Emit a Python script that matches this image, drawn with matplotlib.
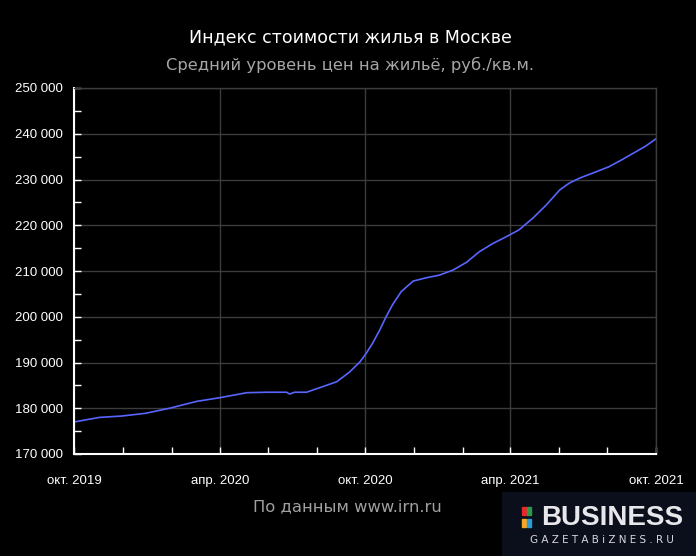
import pandas as pd
import matplotlib
matplotlib.use('Agg')
import matplotlib.pyplot as plt
import matplotlib.dates as mdates
from matplotlib.ticker import FuncFormatter, MultipleLocator
from matplotlib.patches import Rectangle

# Price per sq.m. in Moscow
dates = ['2019-10-01', '2019-11-02', '2019-11-30', '2019-12-30', '2020-01-29',
         '2020-03-03', '2020-04-01', '2020-05-05', '2020-05-30', '2020-06-24',
         '2020-06-28', '2020-07-04', '2020-07-19', '2020-08-08', '2020-08-26',
         '2020-09-11', '2020-09-24', '2020-10-02', '2020-10-10', '2020-10-19',
         '2020-10-27', '2020-11-04', '2020-11-15', '2020-11-30', '2020-12-16',
         '2021-01-02', '2021-01-19', '2021-02-05', '2021-02-21', '2021-03-10',
         '2021-03-27', '2021-04-12', '2021-04-29', '2021-05-16', '2021-06-02',
         '2021-06-14', '2021-06-27', '2021-07-18', '2021-08-03', '2021-08-20',
         '2021-09-06', '2021-09-18', '2021-10-01']
prices = [177000, 178000, 178300, 178900, 180000,
          181500, 182300, 183400, 183500, 183500,
          183100, 183500, 183500, 184700, 185800,
          187900, 190100, 192000, 194200, 197100,
          200000, 202600, 205500, 207800, 208500,
          209100, 210200, 211900, 214200, 216000,
          217500, 219000, 221500, 224400, 227700,
          229200, 230300, 231700, 232800, 234400,
          236100, 237300, 238900]

tick_dates = ['2019-10-01', '2020-04-01', '2020-10-01', '2021-04-01', '2021-10-01']
tick_labels = ['окт. 2019', 'апр. 2020', 'окт. 2020', 'апр. 2021', 'окт. 2021']

df = pd.DataFrame({'date': pd.to_datetime(dates), 'price': prices})

fig = plt.figure(figsize=(6.96, 5.56), dpi=100, facecolor='black')
ax = fig.add_axes([74 / 696, 1 - 454 / 556, 582 / 696, 366 / 556], facecolor='black')

ax.plot(df['date'], df['price'], color='#5865ff', lw=1.2)

ax.set_xlim(pd.Timestamp(tick_dates[0]), pd.Timestamp(tick_dates[-1]))
ax.set_ylim(170000, 250000)

# ticks
ax.set_xticks(pd.to_datetime(tick_dates))
ax.set_xticklabels(tick_labels)
ax.xaxis.set_minor_locator(mdates.MonthLocator(bymonth=[2, 6, 8, 12]))
ax.yaxis.set_major_locator(MultipleLocator(10000))
ax.yaxis.set_minor_locator(MultipleLocator(5000))
ax.yaxis.set_major_formatter(FuncFormatter(lambda v, p: f'{int(v):,}'.replace(',', ' ')))

for lab in ax.get_xticklabels() + ax.get_yticklabels():
    lab.set_fontfamily(['Liberation Sans', 'DejaVu Sans'])
    lab.set_fontsize(9.5)
    lab.set_color('white')

ax.tick_params(axis='x', which='both', direction='in', length=5, width=1,
               colors='white', pad=15)
ax.tick_params(axis='y', which='both', direction='in', length=5, width=1,
               colors='white', pad=8)

ax.grid(True, which='major', color='#3c3c3c', lw=1)
ax.set_axisbelow(True)

for side in ['top', 'right']:
    ax.spines[side].set_color('#3c3c3c')
    ax.spines[side].set_linewidth(1)
for side in ['left', 'bottom']:
    ax.spines[side].set_color('white')
    ax.spines[side].set_linewidth(1.5)

# titles
fig.text(350 / 696, 1 - 37 / 556, 'Индекс стоимости жилья в Москве',
         color='white', fontsize=12.5, ha='center', va='center',
         family='DejaVu Sans')
fig.text(350 / 696, 1 - 65 / 556, 'Средний уровень цен на жильё, руб./кв.м.',
         color='#a6a6a6', fontsize=11.8, ha='center', va='center',
         family='DejaVu Sans')
fig.text(347 / 696, 1 - 507 / 556, 'По данным www.irn.ru',
         color='#a0a0a0', fontsize=11.8, ha='center', va='center',
         family='DejaVu Sans')

# logo
fig.patches.append(Rectangle((502 / 696, 0), 194 / 696, 64 / 556,
                             transform=fig.transFigure, color='#0b0e1b', zorder=0))
sq = [(522, 507, '#e8262c'), (527, 507, '#2a9b48'), (522, 519, '#f5a623'), (527, 519, '#2d9bd6')]
for x0, y0, c in sq:
    fig.patches.append(Rectangle((x0 / 696, 1 - (y0 + 8) / 556), 3.5 / 696, 8 / 556,
                                 transform=fig.transFigure, color=c, zorder=1))
fig.text(612 / 696, 1 - 518 / 556, 'BUSINESS', color='#e8e8ec', fontsize=20,
         fontweight='bold', ha='center', va='center', family='Liberation Sans')
fig.text(602 / 696, 1 - 540 / 556, 'G A Z E T A B i Z N E S . R U', color='#d8d8de',
         fontsize=7.5, ha='center', va='center', family='DejaVu Sans')

fig.savefig('out.png', dpi=100, facecolor='black')
